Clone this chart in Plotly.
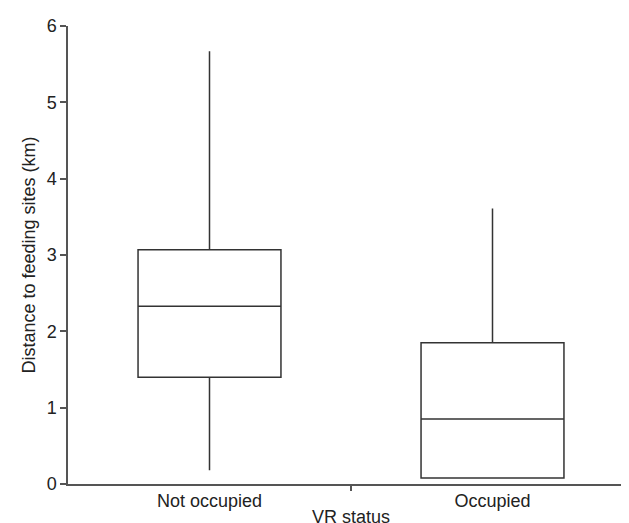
import plotly.graph_objects as go

categories = ["Not occupied", "Occupied"]
lower_whisker = [0.18, 0.08]
q1_values = [1.40, 0.08]
median_values = [2.33, 0.85]
q3_values = [3.07, 1.85]
upper_whisker = [5.67, 3.61]
y_ticks = [0, 1, 2, 3, 4, 5, 6]

positions = list(range(len(categories)))

fig = go.Figure()
fig.add_trace(go.Box(
    x=positions,
    q1=q1_values,
    median=median_values,
    q3=q3_values,
    lowerfence=lower_whisker,
    upperfence=upper_whisker,
    fillcolor="white",
    line=dict(color="#333333", width=1.5),
    whiskerwidth=0,
    width=0.505,
    boxpoints=False,
    showlegend=False,
    hoverinfo="skip",
))

font = dict(family="Liberation Sans, Arial, sans-serif", size=18, color="#222222")

fig.update_layout(
    width=629, height=523,
    margin=dict(l=60, r=3, t=18, b=47),
    paper_bgcolor="white", plot_bgcolor="white",
    font=font,
    xaxis=dict(
        range=[-0.5, 1.5],
        tickvals=positions, ticktext=categories,
        ticks="", showgrid=False, zeroline=False,
        showline=True, linecolor="#555555", linewidth=1.5,
        minor=dict(tickvals=[0.5], ticks="outside", ticklen=5, tickcolor="#555555", tickwidth=1.5),
        title=dict(text="VR status", standoff=0, font=font),
        tickfont=font,
    ),
    yaxis=dict(
        range=[0, 6],
        tickvals=y_ticks,
        ticks="outside", ticklen=6, tickcolor="#555555", tickwidth=1.5,
        showgrid=False, zeroline=False,
        showline=True, linecolor="#555555", linewidth=1.5,
        title=dict(text="Distance to feeding sites (km)", standoff=6, font=font),
        tickfont=font,
    ),
)

fig.write_html("out.html")
